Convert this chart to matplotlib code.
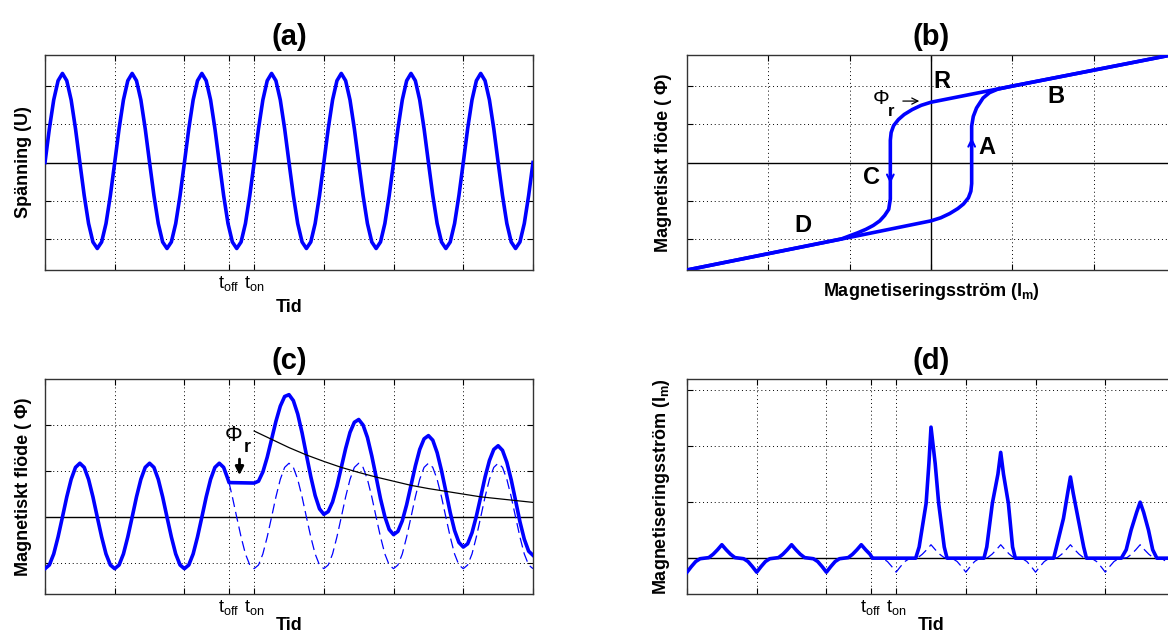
import numpy as np
import matplotlib
matplotlib.use('Agg')
import matplotlib.pyplot as plt

plt.rcParams['font.family'] = ['Liberation Sans', 'DejaVu Sans']
plt.rcParams['mathtext.fontset'] = 'custom'
plt.rcParams['mathtext.rm'] = 'Liberation Sans'
plt.rcParams['mathtext.bf'] = 'Liberation Sans:bold'
plt.rcParams['mathtext.it'] = 'Liberation Sans:italic'

# time axis, 16 samples per period, 7 periods
t = np.arange(113) / 16.0
t_off = 2.64
t_on = 3.0

# one period of the steady state curves
volt_cycle = [0.00, 0.88, 1.63, 2.13, 2.32, 2.13, 1.63, 0.88,
              0.00, -0.86, -1.59, -2.07, -2.24, -2.07, -1.59, -0.86]
flux_cycle = [-1.12, -1.04, -0.80, -0.43, 0.00, 0.44, 0.82, 1.08,
              1.17, 1.08, 0.82, 0.44, 0.00, -0.43, -0.80, -1.04]
cur_cycle = [-0.25, -0.15, -0.06, -0.01, 0.00, 0.01, 0.07, 0.15,
             0.24, 0.15, 0.07, 0.01, 0.00, -0.01, -0.06, -0.15]

# residual flux while switched off
phi_r = 0.75

# flux after switch-on, t = 3 .. 7 in 1/16 steps
flux_inrush = [0.74, 0.78, 0.98, 1.30, 1.69, 2.08, 2.41, 2.62, 2.66, 2.53, 2.24, 1.83, 1.35, 0.88, 0.47, 0.18,
               0.06, 0.12, 0.33, 0.67, 1.08, 1.49, 1.84, 2.06, 2.12, 2.00, 1.73, 1.33, 0.87, 0.40, 0.01, -0.27,
               -0.38, -0.31, -0.08, 0.27, 0.69, 1.11, 1.47, 1.70, 1.77, 1.67, 1.40, 1.01, 0.56, 0.10, -0.29, -0.55,
               -0.65, -0.58, -0.34, 0.02, 0.44, 0.87, 1.23, 1.47, 1.55, 1.45, 1.19, 0.81, 0.36, -0.10, -0.48, -0.74,
               -0.83]

# decaying dc offset of the flux
dc_t = [3.0, 3.25, 3.5, 3.75, 4.0, 4.25, 4.5, 4.75, 5.0, 5.25, 5.5, 5.75, 6.0, 6.25, 6.5, 6.75, 7.0]
dc_flux = [1.87, 1.69, 1.51, 1.35, 1.21, 1.08, 0.97, 0.87, 0.78, 0.69, 0.62, 0.56, 0.50, 0.44, 0.40, 0.36, 0.32]

# inrush current after switch-on
inrush_t = [2.66, 3.28, 3.33, 3.43, 3.47, 3.50, 3.56, 3.61, 3.69, 3.73,
            4.26, 4.30, 4.38, 4.46, 4.50, 4.54, 4.61, 4.67, 4.71,
            5.26, 5.30, 5.40, 5.46, 5.50, 5.54, 5.61, 5.69, 5.73,
            6.23, 6.30, 6.37, 6.45, 6.50, 6.55, 6.62, 6.68, 6.74, 7.00]
inrush_i = [0.0, 0.0, 0.20, 0.98, 1.69, 2.34, 1.69, 0.98, 0.20, 0.0,
            0.0, 0.20, 0.98, 1.50, 1.89, 1.50, 0.98, 0.20, 0.0,
            0.0, 0.20, 0.71, 1.16, 1.45, 1.16, 0.71, 0.20, 0.0,
            0.0, 0.15, 0.50, 0.82, 1.00, 0.82, 0.50, 0.15, 0.0, 0.0]

# hysteresis loop
asc_x = [-3.0, -1.0, 0.0, 0.12, 0.23, 0.33, 0.40, 0.46, 0.49, 0.50,
         0.50, 0.50, 0.52, 0.56, 0.64, 0.72, 0.82, 1.0, 3.0]
asc_y = [-2.80, -1.95, -1.52, -1.44, -1.33, -1.20, -1.08, -0.92, -0.75, -0.55,
         0.55, 0.95, 1.20, 1.42, 1.68, 1.82, 1.91, 1.99, 2.82]
desc_x = [3.0, 1.0, 0.0, -0.12, -0.23, -0.33, -0.40, -0.46, -0.49, -0.50,
          -0.50, -0.50, -0.52, -0.57, -0.63, -0.71, -0.80, -0.90, -1.1, -3.0]
desc_y = [2.82, 1.99, 1.57, 1.49, 1.38, 1.25, 1.12, 0.96, 0.78, 0.58,
          -0.55, -0.95, -1.22, -1.38, -1.52, -1.64, -1.74, -1.83, -1.99, -2.80]

time_ticks = [0, 1, 2, t_off, t_on, 4, 5, 6, 7]
time_labels = ['', '', '', r'$\mathrm{t_{off}}$', r'$\mathrm{t_{on}}$', '', '', '', '']

BLUE = '#0000ff'
LW = 2.6


def style_axes(ax, xticks, yticks, xlim, ylim):
    ax.set_xlim(xlim)
    ax.set_ylim(ylim)
    ax.set_xticks(xticks)
    ax.set_yticks(yticks)
    ax.set_yticklabels([])
    ax.tick_params(direction='in', length=4, width=0.8, top=True, right=True,
                   labelsize=13, pad=3)
    ax.grid(True, color='k', ls=(0, (1, 3)), lw=0.7)
    ax.axhline(0, color='k', lw=1.0, zorder=1.5)
    for s in ax.spines.values():
        s.set_linewidth(1.0)
        s.set_color('#333333')


fig = plt.figure(figsize=(11.68, 6.37), dpi=100)
W = 488 / 1168
H = 215 / 637
x1, x2 = 45 / 1168, 687 / 1168
y1, y2 = 1 - 270 / 637, 1 - 594 / 637

ax_a = fig.add_axes([x1, y1, W, H])
ax_b = fig.add_axes([x2, y1, W, H])
ax_c = fig.add_axes([x1, y2, W, H])
ax_d = fig.add_axes([x2, y2, W, H])

steady_volt = np.append(np.tile(volt_cycle, 7), volt_cycle[0])
steady_flux = np.append(np.tile(flux_cycle, 7), flux_cycle[0])
steady_cur = np.append(np.tile(cur_cycle, 7), cur_cycle[0])
n_off = 43  # samples up to t = 2.625

# (a) voltage
ax_a.plot(t, steady_volt, color=BLUE, lw=LW, zorder=3)
style_axes(ax_a, time_ticks, [-2, -1, 1, 2], (0, 7), (-2.8, 2.8))
ax_a.set_xticklabels(time_labels)
ax_a.set_xlabel('Tid', fontsize=13, fontweight='bold', labelpad=4)
ax_a.set_ylabel('Spänning (U)', fontsize=13, fontweight='bold', labelpad=6)
ax_a.set_title('(a)', fontsize=21, fontweight='bold', pad=7)

# (b) hysteresis
ax_b.plot(asc_x, asc_y, color=BLUE, lw=LW, zorder=3)
ax_b.plot(desc_x, desc_y, color=BLUE, lw=LW, zorder=3)
style_axes(ax_b, [-2, -1, 0, 1, 2], [-2, -1, 1, 2], (-3, 3), (-2.8, 2.8))
ax_b.set_xticklabels([])
ax_b.axvline(0, color='k', lw=1.0, zorder=1.5)
ax_b.annotate('', xy=(0.5, 0.72), xytext=(0.5, 0.35),
              arrowprops=dict(arrowstyle='->', color=BLUE, lw=1.5, mutation_scale=12))
ax_b.annotate('', xy=(-0.5, -0.62), xytext=(-0.5, -0.25),
              arrowprops=dict(arrowstyle='->', color=BLUE, lw=1.5, mutation_scale=12))
for lab, px, py in [('R', 0.13, 2.1), ('B', 1.54, 1.72), ('A', 0.69, 0.39),
                    ('C', -0.73, -0.4), ('D', -1.57, -1.65)]:
    ax_b.text(px, py, lab, fontsize=17, fontweight='bold', ha='center', va='center')
ax_b.text(-0.62, 1.66, 'Φ', fontsize=15, ha='center', va='center')
ax_b.text(-0.49, 1.32, 'r', fontsize=12, fontweight='bold', ha='center', va='center')
ax_b.annotate('', xy=(-0.11, 1.6), xytext=(-0.38, 1.6),
              arrowprops=dict(arrowstyle='->', color='k', lw=0.9, mutation_scale=11))
ax_b.set_xlabel(r'Magnetiseringsström (I$_\mathbf{m}$)', fontsize=13, fontweight='bold', labelpad=5)
ax_b.set_ylabel('Magnetiskt flöde ( Φ)', fontsize=13, fontweight='bold', labelpad=8)
ax_b.set_title('(b)', fontsize=21, fontweight='bold', pad=7)

# (c) flux
flux_t = np.concatenate([t[:n_off], [t_off], t[48:]])
flux_y = np.concatenate([steady_flux[:n_off], [phi_r], flux_inrush])
ax_c.plot(np.concatenate([[t_off], t[n_off:]]), np.concatenate([[phi_r], steady_flux[n_off:]]),
          color=BLUE, lw=0.9, dashes=(8, 4), zorder=2.5)
ax_c.plot(flux_t, flux_y, color=BLUE, lw=LW, zorder=3)
ax_c.plot(dc_t, dc_flux, color='k', lw=0.9, zorder=3.5)
style_axes(ax_c, time_ticks, [-1, 1, 2], (0, 7), (-1.67, 3.0))
ax_c.set_xticklabels(time_labels)
ax_c.text(2.71, 1.78, 'Φ', fontsize=16, ha='center', va='center')
ax_c.text(2.9, 1.52, 'r', fontsize=13, fontweight='bold', ha='center', va='center')
ax_c.annotate('', xy=(2.79, 0.85), xytext=(2.79, 1.32),
              arrowprops=dict(arrowstyle='-|>', color='k', lw=2, mutation_scale=12))
ax_c.set_xlabel('Tid', fontsize=13, fontweight='bold', labelpad=0)
ax_c.set_ylabel('Magnetiskt flöde ( Φ)', fontsize=13, fontweight='bold', labelpad=6)
ax_c.set_title('(c)', fontsize=21, fontweight='bold', pad=7)

# (d) magnetising current
cur_t = np.concatenate([t[:n_off], inrush_t])
cur_y = np.concatenate([steady_cur[:n_off], inrush_i])
ax_d.plot(np.concatenate([[t_off], t[n_off:]]), np.concatenate([[0.03], steady_cur[n_off:]]),
          color=BLUE, lw=0.9, dashes=(8, 4), zorder=2.5)
ax_d.plot(cur_t, cur_y, color=BLUE, lw=LW, zorder=3)
style_axes(ax_d, time_ticks, [1, 2, 3], (0, 7), (-0.64, 3.2))
ax_d.set_xticklabels(time_labels)
ax_d.set_xlabel('Tid', fontsize=13, fontweight='bold', labelpad=0)
ax_d.set_ylabel(r'Magnetiseringsström (I$_\mathbf{m}$)', fontsize=13, fontweight='bold', labelpad=8)
ax_d.set_title('(d)', fontsize=21, fontweight='bold', pad=7)

fig.savefig('out.png', dpi=100)
